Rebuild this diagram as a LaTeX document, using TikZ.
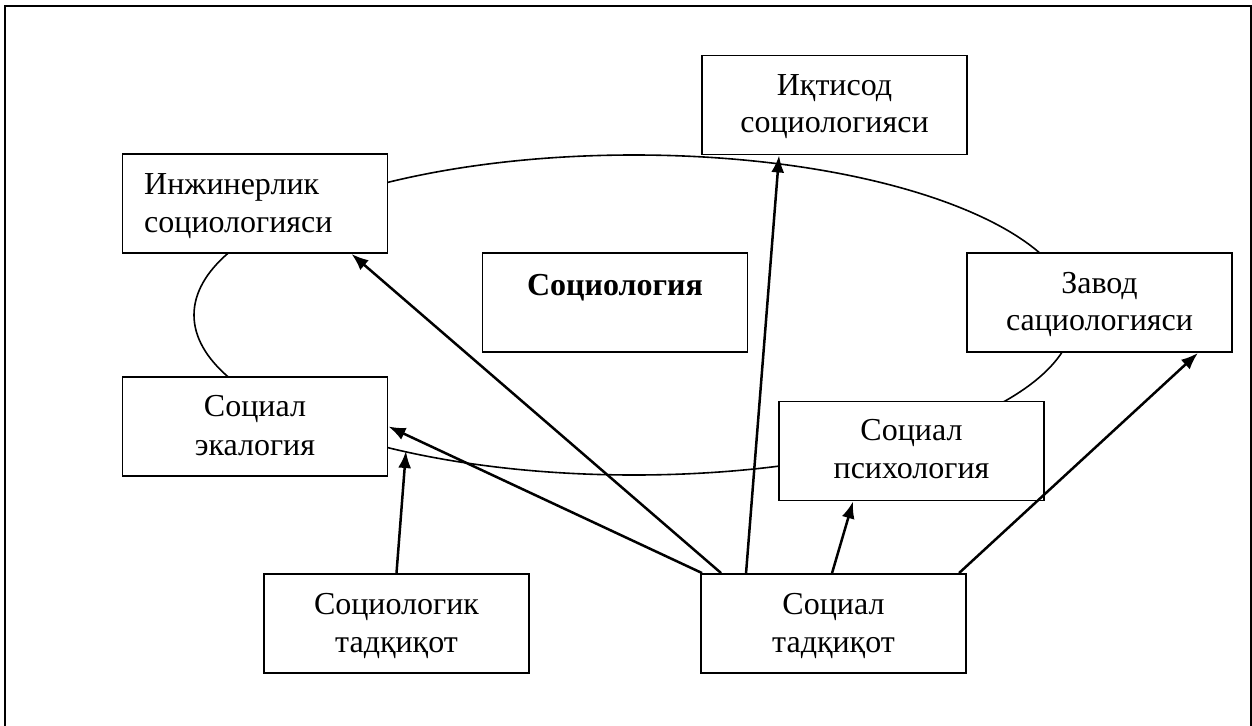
\documentclass[tikz,border=0pt]{standalone}
\usepackage{fontspec}
\setmainfont{Liberation Serif}
\usetikzlibrary{arrows.meta}
\tikzset{
  boxnode/.style={draw=black, line width=1.9pt, fill=white, minimum width=265pt, minimum height=99pt, inner sep=0pt},
  txt/.style={anchor=base, inner sep=0pt, font=\fontsize{32}{38}\selectfont},
  txtl/.style={anchor=base west, inner sep=0pt, font=\fontsize{32}{38}\selectfont},
  arr/.style={line width=2.5pt, -{Latex[length=17pt,width=13pt]}},
  orbit/.style={draw=black, line width=1.6pt}
}
\begin{document}
\begin{tikzpicture}[x=1pt,y=-1pt]
\useasboundingbox (0,0) rectangle (1252,725);
\draw[line width=2.2pt] (5,740) -- (5,6) -- (1251,6) -- (1251,740);
% background ellipse linking the branches
\draw[orbit] (634,315) ellipse [x radius=440pt, y radius=160pt];
% boxes
\node[boxnode] (iqt) at (834.5,105) {};
\node[boxnode] (inz) at (255,203.5) {};
\node[boxnode] (soc) at (615,302.5) {};
\node[boxnode] (zav) at (1099.5,302.5) {};
\node[boxnode] (eco) at (255,426.5) {};
\node[boxnode] (psy) at (911.5,451) {};
\node[boxnode] (slt) at (396.5,623.5) {};
\node[boxnode] (st) at (833.5,623.5) {};
% texts
\node[txt] (iqt1) at (834.5,95) {Иқтисод};
\node[txt] (iqt2) at (834.5,132) {социологияси};
\node[txtl] (inz1) at (144,194) {Инжинерлик};
\node[txtl] (inz2) at (144,232) {социологияси};
\node[txt] (soc1) at (615,295) {\bfseries Социология};
\node[txt] (zav1) at (1099.5,293) {Завод};
\node[txt] (zav2) at (1099.5,330) {сациологияси};
\node[txt] (eco1) at (255,416) {Социал};
\node[txt] (eco2) at (255,455) {экалогия};
\node[txt] (psy1) at (911.5,440) {Социал};
\node[txt] (psy2) at (911.5,478) {психология};
\node[txt] (slt1) at (396.5,614) {Социологик};
\node[txt] (slt2) at (396.5,652) {тадқиқот};
\node[txt] (st1) at (833.5,614) {Социал};
\node[txt] (st2) at (833.5,652) {тадқиқот};
% arrows
\coordinate (ecoside) at ([xshift=17.5pt,yshift=-24.5pt]eco.east);
\draw[arr] ([xshift=21pt]st.north west) -- ([xshift=230pt]inz.south west);
\draw[arr] ([xshift=2pt]st.north west) -- (eco.east);
\draw[arr] ([xshift=46pt]st.north west) -- ([xshift=78pt]iqt.south west);
\draw[arr] ([xshift=132pt]st.north west) -- ([xshift=75pt]psy.south west);
\draw[arr] ([xshift=259pt]st.north west) -- ([xshift=-35pt]zav.south east);
\draw[arr] (slt.north) -- (ecoside);
\end{tikzpicture}
\end{document}
